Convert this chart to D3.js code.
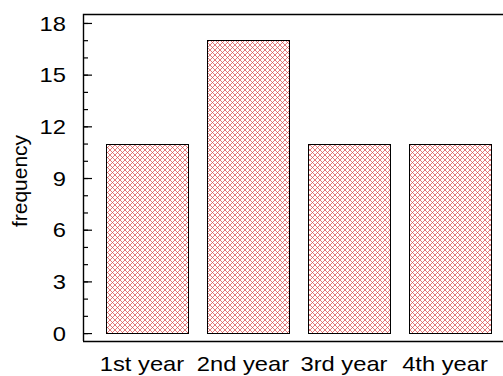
<!DOCTYPE html>
<html>
<head>
<meta charset="utf-8">
<script src="https://cdn.jsdelivr.net/npm/d3@7"></script>
<style>
  html, body { margin: 0; padding: 0; background: #fff; }
  svg { display: block; font-family: "Liberation Sans", Arial, sans-serif; }
</style>
</head>
<body>
<svg id="chart" width="503" height="376"></svg>
<script>
// Students per year of study
const categories = ["1st year", "2nd year", "3rd year", "4th year"];
const frequency = [11, 17, 11, 11];
const majorTicks = [0, 3, 6, 9, 12, 15, 18];
const minorTicks = d3.range(0, 19, 1);

const svg = d3.select("#chart");
const plotLeft = 83, plotRight = 503, plotTop = 14, plotBottom = 341;
const stretch = 1.13; // slightly wide lettering

const y = d3.scaleLinear().domain([-0.46, 18.52]).range([plotBottom, plotTop]);
const x = d3.scaleBand().domain(categories).range([96.5, 500.5]).paddingInner(0.19).paddingOuter(0.095);

// Crosshatch fill
const defs = svg.append("defs");
const pat = defs.append("pattern")
  .attr("id", "hatch").attr("patternUnits", "userSpaceOnUse")
  .attr("width", 5).attr("height", 5);
pat.append("rect").attr("width", 5).attr("height", 5).attr("fill", "#fff");
pat.append("path").attr("d", "M0,0L5,5M5,0L0,5")
  .attr("stroke", "#d84848").attr("stroke-width", 0.9).attr("stroke-opacity", 0.8);

// Bars
svg.append("g").selectAll("rect")
  .data(categories.map((c, i) => ({ c, v: frequency[i] })))
  .join("rect")
  .attr("x", d => Math.round(x(d.c)) + 0.5)
  .attr("y", d => Math.round(y(d.v)) + 0.5)
  .attr("width", Math.round(x.bandwidth()))
  .attr("height", d => Math.round(y(0)) - Math.round(y(d.v)))
  .attr("fill", "url(#hatch)")
  .attr("stroke", "#000").attr("stroke-width", 1);

// Frame lines: top, left, bottom
svg.append("path")
  .attr("d", `M${plotLeft + 0.5},${plotBottom}V${plotTop + 0.5}H${plotRight}M${plotLeft},${plotBottom + 0.5}H${plotRight}`)
  .attr("fill", "none").attr("stroke", "#000").attr("stroke-width", 1.4);

// Y axis ticks
const yAxis = d3.axisRight(y).tickValues(minorTicks).tickSize(5).tickFormat("");
const gMinor = svg.append("g").attr("transform", `translate(${plotLeft},0)`).call(yAxis);
gMinor.select(".domain").remove();
gMinor.selectAll(".tick line").attr("stroke", "#000").attr("stroke-width", 1.2);

const yMajor = d3.axisRight(y).tickValues(majorTicks).tickSize(9).tickFormat("");
const gMajor = svg.append("g").attr("transform", `translate(${plotLeft},0)`).call(yMajor);
gMajor.select(".domain").remove();
gMajor.selectAll(".tick line").attr("stroke", "#000").attr("stroke-width", 1.2);

// Y tick labels
svg.append("g").selectAll("text")
  .data(majorTicks).join("text")
  .attr("transform", d => `translate(66,${y(d)}) scale(${stretch},1)`)
  .attr("dy", "0.36em")
  .attr("text-anchor", "end")
  .attr("font-size", 21)
  .text(d => d);

// X labels
svg.append("g").selectAll("text")
  .data(categories).join("text")
  .attr("transform", d => `translate(${x(d) + x.bandwidth() / 2 - 5},371) scale(${stretch},1)`)
  .attr("text-anchor", "middle")
  .attr("font-size", 21)
  .text(d => d);

// Y title
svg.append("text")
  .attr("transform", "translate(27,181) rotate(-90)")
  .attr("text-anchor", "middle")
  .attr("font-size", 21)
  .text("frequency");
</script>
</body>
</html>
